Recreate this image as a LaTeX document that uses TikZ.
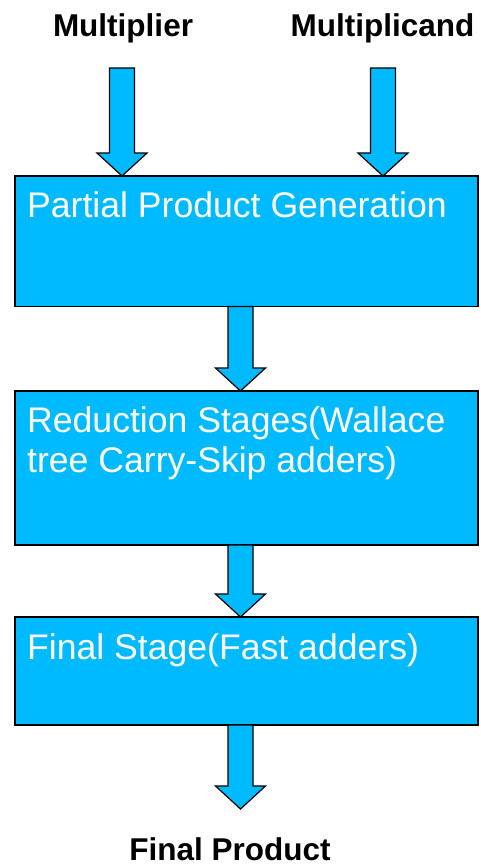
\documentclass[tikz,border=0pt]{standalone}
\usepackage{fontspec}
\setmainfont{Liberation Sans}
\usetikzlibrary{calc}
\definecolor{stagefill}{RGB}{0,186,255}

% block arrow pointing down from #1 to #2 (same x)
\newcommand\flowarrow[2]{%
  \path[flow] let \p1=(#1), \p2=(#2) in
    (\x1-12.5pt,\y1) -- (\x1+12.5pt,\y1) -- (\x1+12.5pt,\y2+23pt) --
    (\x1+25pt,\y2+23pt) -- (\x1,\y2) -- (\x1-25pt,\y2+23pt) --
    (\x1-12.5pt,\y2+23pt) -- cycle;}

\begin{document}
\begin{tikzpicture}[x=1pt,y=-1pt,
  stage/.style={draw=black, line width=1.6pt, fill=stagefill, rectangle,
    anchor=north west, inner sep=0pt, outer sep=0pt, minimum width=463pt},
  stagetext/.style={anchor=base west, inner sep=0pt, text=white,
    font=\fontsize{35.6}{40}\selectfont, align=left},
  iolabel/.style={anchor=base, inner sep=0pt,
    font=\bfseries\fontsize{31.5}{36}\selectfont},
  flow/.style={draw=black, line width=1.2pt, fill=stagefill, line join=miter}
]
\useasboundingbox (0,0) rectangle (480,865);

% input and output labels
\node[iolabel] (mult) at (123,36) {Multiplier};
\node[iolabel] (mcand) at (382.5,36) {Multiplicand};
\node[iolabel] (prod) at (230,860) {Final Product};

% processing stages
\node[stage, minimum height=130.5pt] (b1) at (15,176) {};
\node[stage, minimum height=154pt] (b2) at (15,391) {};
\node[stage, minimum height=108pt] (b3) at (15,617) {};

% stage captions (base anchor sits on the last line)
\node[stagetext] (t1) at ($(b1.north west)+(12,41)$) {Partial Product Generation};
\node[stagetext] (t2) at ($(b2.north west)+(12,81)$) {Reduction Stages(Wallace\\tree Carry-Skip adders)};
\node[stagetext] (t3) at ($(b3.north west)+(12,42)$) {Final Stage(Fast adders)};

% arrow anchor points
\coordinate (in1) at (122,68);
\coordinate (in2) at (383,68);
\coordinate (spine) at (240.5,0);
\coordinate (out) at (240.5,809);

\flowarrow{in1}{in1 |- b1.north}
\flowarrow{in2}{in2 |- b1.north}
\flowarrow{spine |- b1.south}{spine |- b2.north}
\flowarrow{spine |- b2.south}{spine |- b3.north}
\flowarrow{spine |- b3.south}{out}
\end{tikzpicture}
\end{document}
